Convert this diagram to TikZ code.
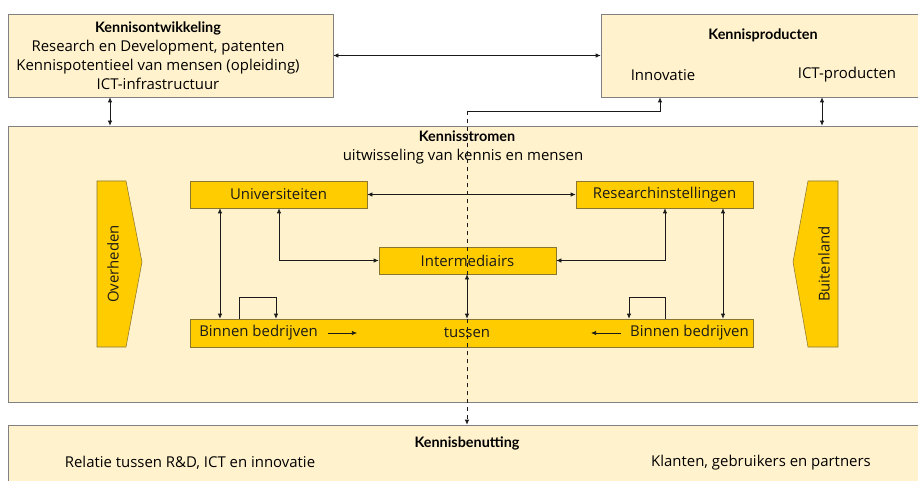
\documentclass[tikz,border=0pt]{standalone}
\usepackage{fontspec}
\setmainfont{Open Sans}
\newfontfamily\kopfont{Lato}
\usetikzlibrary{arrows.meta,calc}
\definecolor{kennisPale}{HTML}{FFF2CC}
\definecolor{kennisGold}{HTML}{FFCC00}
\definecolor{kennisRand}{HTML}{808080}
\definecolor{kennisGoldRand}{HTML}{8A7630}
\definecolor{kennisInk}{HTML}{1A1A1A}

\begin{document}
\begin{tikzpicture}[x=0.75pt,y=-0.75pt,font=\fontsize{11.2}{14.25}\selectfont]
    \tikzset{veld/.style={draw=kennisRand,fill=kennisPale,inner sep=0pt,align=center},
      blok/.style={draw=kennisGoldRand,fill=kennisGold,minimum height=20.25pt,inner sep=0pt,text=kennisInk},
      pijl/.style={-{Latex[length=3.8pt,width=3.2pt]},kennisInk,line width=0.5pt},
      dubbel/.style={{Latex[length=3.8pt,width=3.2pt]}-{Latex[length=3.8pt,width=3.2pt]},kennisInk,line width=0.5pt},
      kop/.style={font=\fontsize{10.8}{14.25}\kopfont\bfseries}}
    \useasboundingbox (0,0) rectangle (918,481);
    % grote velden
    \node[veld,minimum width=243.75pt,minimum height=62.25pt] (ontw) at (170.5,55.5) {};
    \node[align=center] (ontwtekst) at (158,56)
      {{\fontsize{10.8}{14.25}\kopfont\bfseries Kennisontwikkeling}\\ Research en Development, patenten\\ Kennispotentieel van mensen (opleiding)\\ ICT-infrastructuur};
    \node[veld,minimum width=239.25pt,minimum height=62.25pt] (prod) at (760.5,55.5) {};
    \node[kop] (prodkop) at (763,35) {Kennisproducten};
    \node (innovatie) at (663,75) {Innovatie};
    \node (ictprod) at (847,75) {ICT-producten};
    \node[veld,minimum width=684pt,minimum height=207pt] (stromen) at (464,264) {};
    \node[kop] (stromenkop) at (467,136) {Kennisstromen};
    \node (stromensub) at (463,157) {uitwisseling van kennis en mensen};
    \node[veld,minimum width=684pt,minimum height=48.75pt] (benut) at (464,457.5) {};
    \node[kop] (benutkop) at (467,443) {Kennisbenutting};
    \node (relatie) at (190,463) {Relatie tussen R\&D, ICT en innovatie};
    \node (klanten) at (761,463) {Klanten, gebruikers en partners};
    % zijpijlen
    \filldraw[draw=kennisGoldRand,fill=kennisGold] (97,181) -- (126,181) -- (142,262) -- (126,347) -- (97,347) -- cycle;
    \node[rotate=90,text=kennisInk] (overheden) at (113,264) {Overheden};
    \filldraw[draw=kennisGoldRand,fill=kennisGold] (838,181) -- (808,181) -- (793,262) -- (808,347) -- (838,347) -- cycle;
    \node[rotate=90,text=kennisInk] (buitenland) at (824,264) {Buitenland};
    % actoren
    \node[blok,minimum width=132.75pt] (univ) at (278.5,194.5) {Universiteiten};
    \node[blok,minimum width=132.75pt] (research) at (664.5,194.5) {Researchinstellingen};
    \node[blok,minimum width=132.75pt] (inter) at (467.5,260.5) {Intermediairs};
    \node[blok,minimum width=422.25pt,minimum height=21pt] (bedrijven) at (471.5,333) {};
    \node[text=kennisInk,anchor=west,inner sep=0pt] (binnenL) at (199,333) {Binnen bedrijven};
    \node[text=kennisInk] (tussen) at (467,333) {tussen};
    \node[text=kennisInk,anchor=east,inner sep=0pt] (binnenR) at (749,333) {Binnen bedrijven};
    % kolommen
    \coordinate (colA) at (110,0);
    \coordinate (colB) at (822,0);
    \coordinate (colU) at (220,0);
    \coordinate (colUI) at (279,0);
    \coordinate (colRI) at (665,0);
    \coordinate (colR) at (723,0);
    \coordinate (colM) at (467,0);
    \coordinate (colInno) at (660,0);
    \coordinate (knik) at (467,111);
    \coordinate (lusL) at (239,297);
    \coordinate (lusR) at (665,297);
    \coordinate (stroomLa) at (328,333);
    \coordinate (stroomLb) at (357,333);
    \coordinate (stroomRa) at (621,333);
    \coordinate (stroomRb) at (591,333);
    % verbindingen
    \draw[dubbel] (ontw.east) -- (prod.west);
    \draw[dubbel] (ontw.south -| colA) -- (stromen.north -| colA);
    \draw[dubbel] (prod.south -| colB) -- (stromen.north -| colB);
    \draw[dubbel] (univ.east) -- (research.west);
    \draw[dubbel] (univ.south -| colU) -- (bedrijven.north -| colU);
    \draw[dubbel] (research.south -| colR) -- (bedrijven.north -| colR);
    \draw[dubbel] (univ.south -| colUI) |- (inter.west);
    \draw[dubbel] (research.south -| colRI) |- (inter.east);
    \draw[dubbel] (inter.south -| colM) -- (bedrijven.north -| colM);
    \draw[pijl] (bedrijven.north -| lusL) -- (lusL) -- (276,297) -- (bedrijven.north -| 276,0);
    \draw[pijl] (bedrijven.north -| lusR) -- (lusR) -- (629,297) -- (bedrijven.north -| 629,0);
    \draw[pijl] (stroomLa) -- (stroomLb);
    \draw[pijl] (stroomRa) -- (stroomRb);
    \draw[pijl,dashed] (knik) -- (benut.north -| knik);
    \draw[pijl] (knik) -| (prod.south -| colInno);
\end{tikzpicture}
\end{document}
